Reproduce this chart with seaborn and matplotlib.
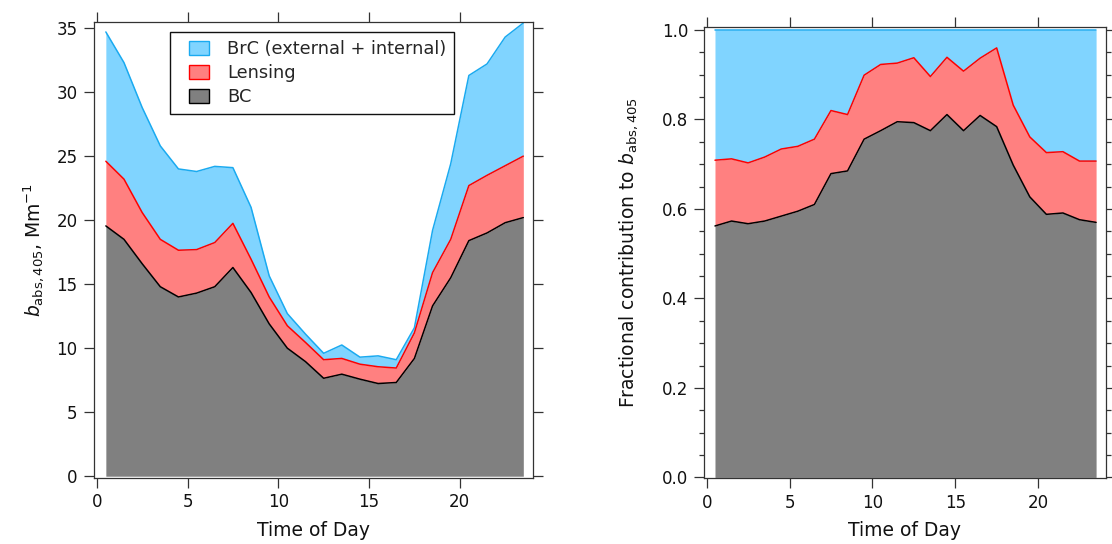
import numpy as np
import pandas as pd
import matplotlib
matplotlib.use("Agg")
import matplotlib.pyplot as plt
import seaborn as sns
from matplotlib.patches import Patch, Rectangle
from matplotlib.legend_handler import HandlerPatch
from matplotlib.ticker import MultipleLocator, FormatStrFormatter

# ---------------- data ----------------
hours = [0.5, 1.5, 2.5, 3.5, 4.5, 5.5, 6.5, 7.5, 8.5, 9.5, 10.5, 11.5,
         12.5, 13.5, 14.5, 15.5, 16.5, 17.5, 18.5, 19.5, 20.5, 21.5, 22.5, 23.5]

# absolute contributions (Mm^-1)
bc_abs = [19.55, 18.5, 16.6, 14.8, 14.0, 14.3, 14.8, 16.3, 14.35, 11.9, 10.0, 8.95,
          7.65, 7.97, 7.58, 7.24, 7.32, 9.2, 13.3, 15.5, 18.4, 19.0, 19.8, 20.2]
lensing_abs = [5.05, 4.7, 4.0, 3.7, 3.65, 3.4, 3.45, 3.45, 2.6, 2.1, 1.75, 1.5,
               1.45, 1.23, 1.17, 1.31, 1.13, 2.0, 2.6, 3.0, 4.3, 4.5, 4.45, 4.8]
brc_abs = [10.1, 9.1, 8.2, 7.3, 6.35, 6.1, 5.95, 4.35, 4.05, 1.65, 0.95, 0.65,
           0.5, 1.05, 0.55, 0.85, 0.65, 0.4, 3.3, 5.9, 8.6, 8.7, 10.05, 10.4]

# fractional contributions
bc_frac = [0.562, 0.573, 0.567, 0.573, 0.584, 0.595, 0.610, 0.679, 0.685, 0.756, 0.775, 0.795,
           0.793, 0.775, 0.811, 0.775, 0.809, 0.784, 0.698, 0.627, 0.588, 0.591, 0.576, 0.570]
lensing_frac = [0.147, 0.139, 0.136, 0.143, 0.150, 0.145, 0.146, 0.141, 0.126, 0.143, 0.148, 0.131,
                0.145, 0.121, 0.128, 0.133, 0.128, 0.176, 0.134, 0.134, 0.138, 0.137, 0.131, 0.137]
brc_frac = [0.291, 0.288, 0.297, 0.284, 0.266, 0.260, 0.244, 0.180, 0.189, 0.101, 0.077, 0.074,
            0.062, 0.104, 0.061, 0.092, 0.063, 0.040, 0.168, 0.239, 0.274, 0.272, 0.293, 0.293]

series_labels = ["BrC (external + internal)", "Lensing", "BC"]
x_ticks = [0, 5, 10, 15, 20]
x_label = "Time of Day"
y_label_left = r"$b_{\mathrm{abs,405}}$, Mm$^{-1}$"
y_label_right = r"Fractional contribution to $b_{\mathrm{abs,405}}$"

# ---------------- style ----------------
sns.set_theme(style="ticks")
plt.rcParams['font.family'] = ['DejaVu Sans']
plt.rcParams['mathtext.fontset'] = 'dejavusans'

C_BC_FILL, C_BC_LINE = '#808080', '#000000'
C_LE_FILL, C_LE_LINE = '#FF8080', '#FF0000'
C_BR_FILL, C_BR_LINE = '#80D4FF', '#1AAAF0'
AX_COL = '#333333'

W, H = 1112, 544
fig = plt.figure(figsize=(W / 100, H / 100), dpi=100)
ax1 = fig.add_axes([93.5 / W, 1 - 477.5 / H, 439.8 / W, 455.8 / H])
ax2 = fig.add_axes([704.3 / W, 1 - 478.3 / H, 401.4 / W, 451.6 / H])


def draw_stack(ax, bc, lens, brc):
    df = pd.DataFrame({"hour": hours, "bc": bc, "lens": lens, "brc": brc})
    df["lens_top"] = df["bc"] + df["lens"]
    df["total"] = df["lens_top"] + df["brc"]
    ax.fill_between(df["hour"], 0, df["bc"], color=C_BC_FILL, lw=0, zorder=1)
    ax.fill_between(df["hour"], df["bc"], df["lens_top"], color=C_LE_FILL, lw=0, zorder=1)
    ax.fill_between(df["hour"], df["lens_top"], df["total"], color=C_BR_FILL, lw=0, zorder=1)
    sns.lineplot(data=df, x="hour", y="total", color=C_BR_LINE, lw=1.1, ax=ax, zorder=2)
    sns.lineplot(data=df, x="hour", y="lens_top", color=C_LE_LINE, lw=1.1, ax=ax, zorder=2)
    sns.lineplot(data=df, x="hour", y="bc", color=C_BC_LINE, lw=1.1, ax=ax, zorder=2)


draw_stack(ax1, bc_abs, lensing_abs, brc_abs)
draw_stack(ax2, bc_frac, lensing_frac, brc_frac)

for ax in (ax1, ax2):
    ax.set_xticks(x_ticks)
    ax.tick_params(which='both', direction='out', top=True, right=True,
                   labeltop=False, labelright=False, color=AX_COL,
                   width=0.9, labelsize=12, pad=4, labelcolor='#111111')
    ax.tick_params(which='major', length=7.5)
    ax.tick_params(which='minor', length=3.8)
    for sp in ax.spines.values():
        sp.set_visible(True)
        sp.set_color(AX_COL)
        sp.set_linewidth(0.9)
    ax.set_xlabel(x_label, fontsize=13.5, labelpad=6.5, color='#111111')
    ax.grid(False)

ax1.set_xlim(-0.18, 24.05)
ax1.set_ylim(-0.1, 35.5)
ax1.set_yticks(range(0, 36, 5))
ax1.set_ylabel(y_label_left, fontsize=13.5, labelpad=7, color='#111111')

ax2.set_xlim(-0.145, 24.08)
ax2.set_ylim(-0.002, 1.0074)
ax2.yaxis.set_major_locator(MultipleLocator(0.2))
ax2.yaxis.set_minor_locator(MultipleLocator(0.05))
ax2.yaxis.set_major_formatter(FormatStrFormatter('%.1f'))
ax2.set_ylabel(y_label_right, fontsize=13.5, labelpad=16, color='#111111')


class OffsetPatch(HandlerPatch):
    def create_artists(self, legend, orig_handle, xdescent, ydescent, width, height,
                       fontsize, trans):
        off = 0.35 * width
        p = Rectangle((-xdescent + off, -ydescent), width - off, height,
                      facecolor=orig_handle.get_facecolor(),
                      edgecolor=orig_handle.get_edgecolor(), lw=1.0, transform=trans)
        return [p]


handles = [Patch(facecolor=C_BR_FILL, edgecolor=C_BR_LINE),
           Patch(facecolor=C_LE_FILL, edgecolor=C_LE_LINE),
           Patch(facecolor=C_BC_FILL, edgecolor=C_BC_LINE)]
leg = ax1.legend(handles, series_labels, loc='upper left',
                 bbox_to_anchor=((170 - 93.5) / 439.8, 1 - (32 - 21.7) / 455.8),
                 borderaxespad=0, fancybox=False, frameon=True, fontsize=12.8,
                 handlelength=1.75, handleheight=0.8, handletextpad=1.0,
                 labelspacing=0.35, borderpad=0.45,
                 handler_map={Patch: OffsetPatch()})
leg.get_frame().set_edgecolor('#111111')
leg.get_frame().set_linewidth(1.0)
leg.get_frame().set_alpha(1)

fig.savefig("out.png", dpi=100)
